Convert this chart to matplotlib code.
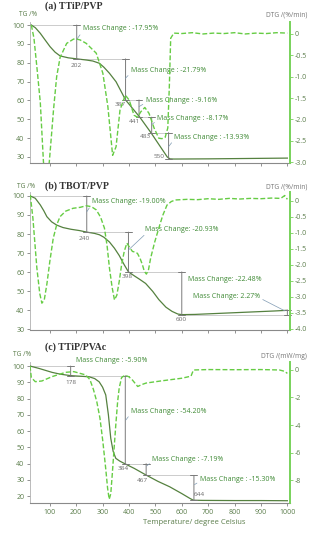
import matplotlib
matplotlib.use("Agg")
import matplotlib.pyplot as plt

# ---- data (temperature in degC) ----
# (a) TTiP/PVP
tg_a_t = [30, 45, 64, 80, 101, 120, 139, 170, 202, 240, 263, 288, 305, 326, 351, 387, 441, 483, 520, 545, 555, 570, 700, 850, 1000]
tg_a = [100, 98.6, 95.6, 92.5, 88.5, 85.6, 83.6, 82.6, 82.05, 81.4, 80.9, 79.7, 77.6, 74.4, 69.9, 60.26, 51.1, 42.93, 35.2, 30.0, 29.0, 28.9, 29.0, 29.2, 29.4]
dtg_a_t = [30, 40, 51, 64, 76, 86, 98, 106, 114, 126, 139, 164, 190, 202, 215, 238, 276, 301, 320, 338, 351, 366, 386, 401, 419, 432,
           445, 460, 476, 495, 513, 525, 537, 547, 553, 558, 570, 600, 640, 680, 720, 760, 800, 840, 880, 920, 960, 1000]
dtg_a = [0.21, -0.1, -0.77, -1.6, -3.0, -3.4, -3.0, -2.4, -1.78, -1.0, -0.55, -0.22, -0.12, -0.12, -0.14, -0.22, -0.45, -0.92, -1.7,
         -2.84, -2.64, -1.78, -1.43, -1.55, -1.9, -1.95, -1.82, -1.72, -1.86, -2.2, -2.44, -2.45, -2.42, -2.2, -1.2, -0.1, 0.02,
         0.01, 0.03, 0.0, 0.02, 0.01, 0.03, 0.0, 0.02, 0.01, 0.03, 0.02]

# (b) TBOT/PVP
tg_b_t = [26, 45, 64, 77, 89, 107, 126, 150, 180, 213, 240, 270, 288, 305, 326, 345, 363, 382, 398, 420, 440, 463, 490, 513, 540,
          563, 585, 600, 650, 750, 850, 950, 1000]
tg_b = [100, 98.8, 95.3, 92.3, 89.1, 86.4, 84.7, 83.4, 82.5, 81.8, 81.0, 80.3, 79.6, 78.3, 75.8, 72.5, 68.7, 63.8, 60.07, 58.0,
        56.2, 54.0, 49.8, 45.5, 41.5, 39.3, 37.9, 37.59, 37.7, 38.3, 38.9, 39.5, 39.86]
dtg_b_t = [26, 36, 51, 62, 70, 79, 89, 100, 113, 126, 139, 160, 188, 215, 238, 258, 276, 292, 307, 317, 326, 336, 345, 354, 363,
           372, 382, 392, 402, 413, 422, 432, 442, 451, 458, 466, 474, 482, 497, 513, 528, 544, 560, 575, 620, 660, 700, 740,
           780, 820, 860, 900, 940, 975, 990, 1000]
dtg_b = [0.19, -0.54, -2.1, -2.9, -3.2, -3.1, -2.6, -1.9, -1.17, -0.75, -0.49, -0.32, -0.23, -0.2, -0.15, -0.18, -0.28, -0.5,
         -0.85, -1.4, -2.1, -2.7, -3.1, -2.95, -2.52, -2.0, -1.58, -1.32, -1.45, -1.58, -1.6, -1.64, -1.8, -2.0, -2.2, -2.29,
         -2.15, -1.79, -1.3, -0.85, -0.45, -0.13, -0.02, 0.03, 0.05, 0.04, 0.07, 0.05, 0.08, 0.06, 0.08, 0.07, 0.09, 0.08, 0.17, 0.05]

# (c) TTiP/PVAc
tg_c_t = [25, 58, 109, 140, 179, 220, 249, 270, 287, 300, 312, 322, 331, 340, 350, 365, 384, 420, 467, 510, 554, 600, 630, 644,
          680, 800, 900, 1000]
tg_c = [100, 98.6, 96.1, 95.0, 94.1, 93.7, 93.4, 92.3, 90.3, 87.0, 82.2, 70.0, 55.5, 47.5, 43.2, 41.5, 39.9, 37.0, 32.71, 29.0,
        25.7, 21.5, 18.6, 17.41, 17.3, 17.2, 17.2, 17.1]
dtg_c_t = [25, 30, 45, 70, 109, 160, 191, 236, 252, 265, 278, 290, 301, 312, 319, 325, 331, 337, 344, 350, 357, 363, 372, 385,
           400, 413, 433, 450, 465, 520, 600, 635, 640, 645, 700, 800, 900, 970, 990, 1000]
dtg_c = [0.3, -0.55, -0.85, -0.8, -0.48, -0.17, -0.12, -0.36, -0.7, -1.4, -2.3, -3.5, -5.2, -7.2, -8.6, -9.4, -9.0, -7.5, -5.6,
         -4.0, -2.3, -1.3, -0.55, -0.38, -0.5, -0.73, -1.2, -1.05, -0.95, -0.8, -0.6, -0.45, -0.2, 0.0, 0.03, 0.02, 0.03, 0.0,
         -0.1, -0.25]

# mass-change steps: (start T, end T, start TG, end TG, label)
steps_a = [(30, 202, 100, 82.05, "-17.95%"), (202, 387, 82.05, 60.26, "-21.79%"), (387, 438, 60.26, 51.1, "-9.16%"),
           (441, 486, 51.1, 42.93, "-8.17%"), (483, 550, 42.93, 29.0, "-13.93%")]
steps_b = [(30, 240, 100, 81.0, "-19.00%"), (240, 398, 81.0, 60.07, "-20.93%"), (398, 600, 60.07, 37.59, "-22.48%"),
           (600, 1000, 37.59, 39.86, "2.27%")]
steps_c = [(30, 179, 100, 94.1, "-5.90%"), (178, 386, 94.1, 39.9, "-54.20%"), (384, 465, 39.9, 32.71, "-7.19%"),
           (467, 646, 32.71, 17.41, "-15.30%")]

TG_COL = "#55813f"
DTG_COL = "#66cc44"
TICK_COL = "#5b7d4b"
TXT_COL = "#3f8a35"
REF_COL = "#c4c4c4"
LEAD_COL = "#7f9ab3"

plt.rcParams["font.family"] = ["Open Sans", "DejaVu Sans"]

fig = plt.figure(figsize=(3.24, 5.36), dpi=100)
W, H = 324.0, 536.0


def make_panel(top, bottom, tg_lim, dtg_lim, dtg_ticks, dtg_labels, show_x):
    ax = fig.add_axes([30 / W, 1 - bottom / H, 260 / W, (bottom - top) / H])
    ax.set_xlim(25, 1010)
    ax.set_ylim(*tg_lim)
    for s in ["top", "right"]:
        ax.spines[s].set_visible(False)
    ax.spines["left"].set_color("#b0b0b0")
    ax.spines["left"].set_linewidth(0.6)
    ax.spines["bottom"].set_color("#8a8a8a")
    ax.spines["bottom"].set_linewidth(0.8)
    ax.set_xticks(range(100, 1001, 100))
    if not show_x:
        ax.set_xticklabels([])
    ax.tick_params(axis="both", labelsize=5, colors="#808080", labelcolor=TICK_COL, length=2.5, width=0.6, pad=1.5)
    ax2 = ax.twinx()
    ax2.set_ylim(*dtg_lim)
    for s in ["top", "left", "bottom"]:
        ax2.spines[s].set_visible(False)
    ax2.spines["right"].set_color("#78d25a")
    ax2.spines["right"].set_linewidth(1.4)
    ax2.set_yticks(dtg_ticks)
    ax2.set_yticklabels(dtg_labels)
    ax2.tick_params(axis="y", labelsize=5, colors="#78d25a", labelcolor=TICK_COL, length=2, width=0.6, pad=1.5)
    return ax, ax2


def draw_steps(ax, steps, texts, leads, nums, sep):
    for (t0, t1, y0, y1, lab), (tx, ty), lead, (nt, ny, ns) in zip(steps, texts, leads, nums):
        ax.plot([t0, t1], [y0, y0], color=REF_COL, lw=0.6, zorder=1)
        ax.annotate("", xy=(t1, y1), xytext=(t1, y0),
                    arrowprops=dict(arrowstyle="|-|,widthA=0.25,widthB=0.25", color="#7a7a7a", lw=0.7,
                                    shrinkA=0, shrinkB=0), annotation_clip=False)
        txt = "Mass Change" + sep + lab
        if lead is not None:
            ax.annotate(txt, xy=lead[:2], xytext=(tx, ty), fontsize=5, color=TXT_COL, va="center", ha="left",
                        annotation_clip=False,
                        arrowprops=dict(arrowstyle="-", color=LEAD_COL, lw=0.5, shrinkA=0, shrinkB=0,
                                        relpos=lead[2]))
        else:
            ax.text(tx, ty, txt, fontsize=5, color=TXT_COL, va="center", ha="left")
        if ns:
            ax.text(nt, ny, ns, fontsize=4.6, color="#6a6a6a", ha="center", va="center")


axa, axa2 = make_panel(22, 163, (26.8, 101.6), (-3.02, 0.28), [0, -0.5, -1.0, -1.5, -2.0, -2.5, -3.0],
                       ["0", "-0.5", "-1.0", "-1.5", "-2.0", "-2.5", "-3.0"], False)
axb, axb2 = make_panel(192, 330, (29.5, 102.1), (-4.04, 0.28), [0, -0.5, -1.0, -1.5, -2.0, -2.5, -3.0, -3.5, -4.0],
                       ["0", "-0.5", "-1.0", "-1.5", "-2.0", "-2.5", "-3.0", "-3.5", "-4.0"], False)
axc, axc2 = make_panel(362, 503, (15.7, 102.5), (-9.67, 0.58), [0, -2, -4, -6, -8],
                       ["0", "-2", "-4", "-6", "-8"], True)

axa.set_yticks(range(30, 101, 10))
axb.set_yticks(range(30, 101, 10))
axc.set_yticks(range(20, 101, 10))

for ax, ax2, tt, tg, dt, dg in [(axa, axa2, tg_a_t, tg_a, dtg_a_t, dtg_a), (axb, axb2, tg_b_t, tg_b, dtg_b_t, dtg_b),
                                (axc, axc2, tg_c_t, tg_c, dtg_c_t, dtg_c)]:
    ax.plot(tt, tg, color=TG_COL, lw=0.9, zorder=3)
    ax2.plot(dt, dg, color=DTG_COL, lw=1.0, ls=(0, (3.5, 1.6)), zorder=2)

draw_steps(axa, steps_a,
           [(225, 97.9), (407, 75.8), (463, 59.9), (507, 50.5), (572, 40.5)],
           [(202, 92.4, (0, 0.2)), (386, 71.7, (0, 0.2)), (438, 56.7, (0, 0.2)), (486, 47.2, (0, 0.2)), (550, 35.5, (0, 0.2))],
           [(202, 78.7, "202"), (365, 57.6, "387"), (419, 48.7, "441"), (463, 40.8, "483"), (515, 30.2, "550")],
           " : ")
draw_steps(axb, steps_b,
           [(260, 97.0), (460, 82.6), (622, 56.3), (642, 47.0)],
           [(240, 91.7, (0, 0.2)), (398, 71.6, (0.05, 0.2)), None, (990, 39.6, (1, 0.3))],
           [(232, 77.7, "240"), (395, 57.5, "398"), (597, 35.0, "600"), (0, 0, "")],
           ": ")
draw_steps(axc, steps_c,
           [(200, 103.5), (408, 72.3), (488, 42.6), (668, 30.3)],
           [None, (388, 66.8, (0, 0.2)), (467, 38.5, (0, 0.2)), (648, 27.0, (0, 0.2))],
           [(179, 89.7, "178"), (378, 37.0, "384"), (452, 29.8, "467"), (668, 21.2, "644")],
           " : ")

axc.set_xlabel("Temperature/ degree Celsius", fontsize=5.5, color=TICK_COL, labelpad=3)
axc.xaxis.set_label_coords(0.63, -0.11)

# panel titles and axis captions
for y, title, unit_y, unit in [(6, "(a) TTiP/PVP", 15, "DTG /(%/min)"), (186, "(b) TBOT/PVP", 187, "DTG /(%/min)"),
                               (347, "(c) TTiP/PVAc", 356, "DTG /(mW/mg)")]:
    fig.text(45 / W, 1 - y / H, title, family="Liberation Serif", weight="bold", fontsize=7.1, color="#333333",
             va="center", ha="left")
    fig.text(307 / W, 1 - unit_y / H, unit, fontsize=4.8, color="#777777", ha="right", va="center")
fig.text(19 / W, 1 - 14 / H, "TG /%", fontsize=4.8, color=TICK_COL, va="center", ha="left")
fig.text(17 / W, 1 - 186 / H, "TG /%", fontsize=4.8, color=TICK_COL, va="center", ha="left")
fig.text(13 / W, 1 - 355 / H, "TG /%", fontsize=4.8, color=TICK_COL, va="center", ha="left")

fig.savefig("out.png", dpi=100, facecolor="white")
